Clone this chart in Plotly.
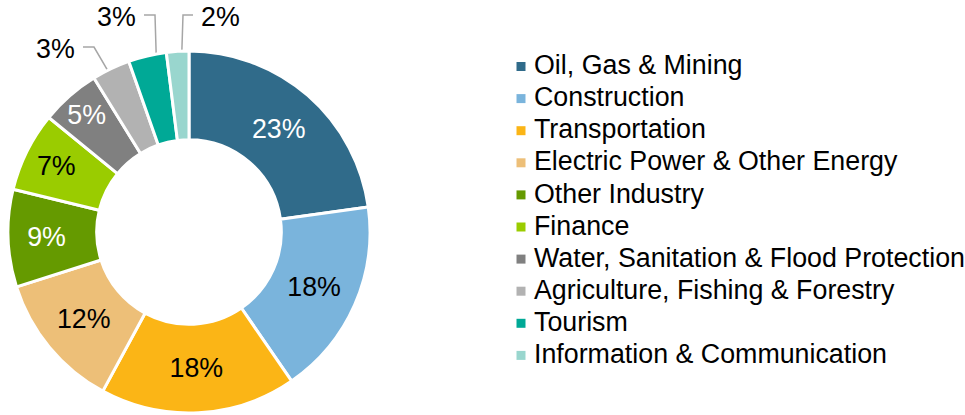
import numpy as np
import plotly.graph_objects as go

sectors = ["Oil, Gas & Mining", "Construction", "Transportation", "Electric Power & Other Energy",
           "Other Industry", "Finance", "Water, Sanitation & Flood Protection",
           "Agriculture, Fishing & Forestry", "Tourism", "Information & Communication"]
shares = [22.8, 17.6, 17.5, 12.2, 8.7, 7.1, 5.3, 3.4, 3.4, 2.0]
colors = ["#306B8A", "#7AB4DC", "#FBB516", "#EDBF78", "#659A00",
          "#9ACC00", "#808080", "#B2B2B2", "#00A996", "#99D6CE"]
label_colors = ["white", "black", "black", "black", "white", "black", "white", "black", "black", "black"]
outside = [7, 8, 9]  # small slices labelled with leader lines

W, H = 965, 415
cx, cy, R, hole = 189, 232, 181, 0.51
FONT = "Liberation Sans, Arial, sans-serif"
FS = 26.8

fig = go.Figure()

texts = ["" if i in outside else "%{percent:.0%}" for i in range(len(shares))]
fig.add_trace(go.Pie(
    labels=sectors, values=shares, sort=False, direction="clockwise", hole=hole,
    marker=dict(colors=colors, line=dict(color="white", width=3)),
    texttemplate=texts, textposition="inside", insidetextorientation="horizontal",
    insidetextfont=dict(family=FONT, size=FS, color=label_colors),
    domain=dict(x=[(cx - R) / W, (cx + R) / W], y=[1 - (cy + R) / H, 1 - (cy - R) / H]),
    showlegend=False, hoverinfo="label+percent",
))

# leader lines for the small slices, starting mid-ring of each slice
cum = np.cumsum(shares) - np.array(shares) / 2
theta = np.deg2rad(cum / sum(shares) * 360)
r_mid = R * (1 + hole) / 2
elbows = {7: (94, 47), 8: (155, 15), 9: (183, 15)}
ends = {7: (83, 47), 8: (144, 15), 9: (193, 15)}
for i in outside:
    sx = cx + r_mid * np.sin(theta[i])
    sy = cy - r_mid * np.cos(theta[i])
    fig.add_trace(go.Scatter(
        x=[sx, elbows[i][0], ends[i][0]], y=[sy, elbows[i][1], ends[i][1]],
        mode="lines", line=dict(color="#A6A6A6", width=1.5), showlegend=False, hoverinfo="skip"))
    left = ends[i][0] > elbows[i][0]
    fig.add_annotation(x=ends[i][0] + (6 if left else -6), y=ends[i][1] + 2, xref="x", yref="y",
                       text=f"{shares[i]:.0f}%", showarrow=False,
                       xanchor="left" if left else "right", yanchor="middle",
                       font=dict(family=FONT, size=FS, color="black"))

# legend drawn as markers + text
rows = 66.5 + 32.1 * np.arange(len(sectors))
fig.add_trace(go.Scatter(
    x=[521] * len(sectors), y=rows, mode="markers",
    marker=dict(symbol="square", size=9, color=colors), showlegend=False, hoverinfo="skip"))
fig.add_trace(go.Scatter(
    x=[534] * len(sectors), y=rows + 1, mode="text", text=sectors, textposition="middle right",
    textfont=dict(family=FONT, size=FS, color="black"), showlegend=False, hoverinfo="skip"))

fig.update_layout(
    width=W, height=H, margin=dict(l=0, r=0, t=0, b=0),
    paper_bgcolor="white", plot_bgcolor="rgba(0,0,0,0)",
    xaxis=dict(range=[0, W], visible=False, fixedrange=True),
    yaxis=dict(range=[H, 0], visible=False, fixedrange=True),
)

# drop the default page margin so the figure sits at the window's corner
fig.write_html("out.html", config={"displayModeBar": False},
               post_script="document.body.style.margin='0';")
